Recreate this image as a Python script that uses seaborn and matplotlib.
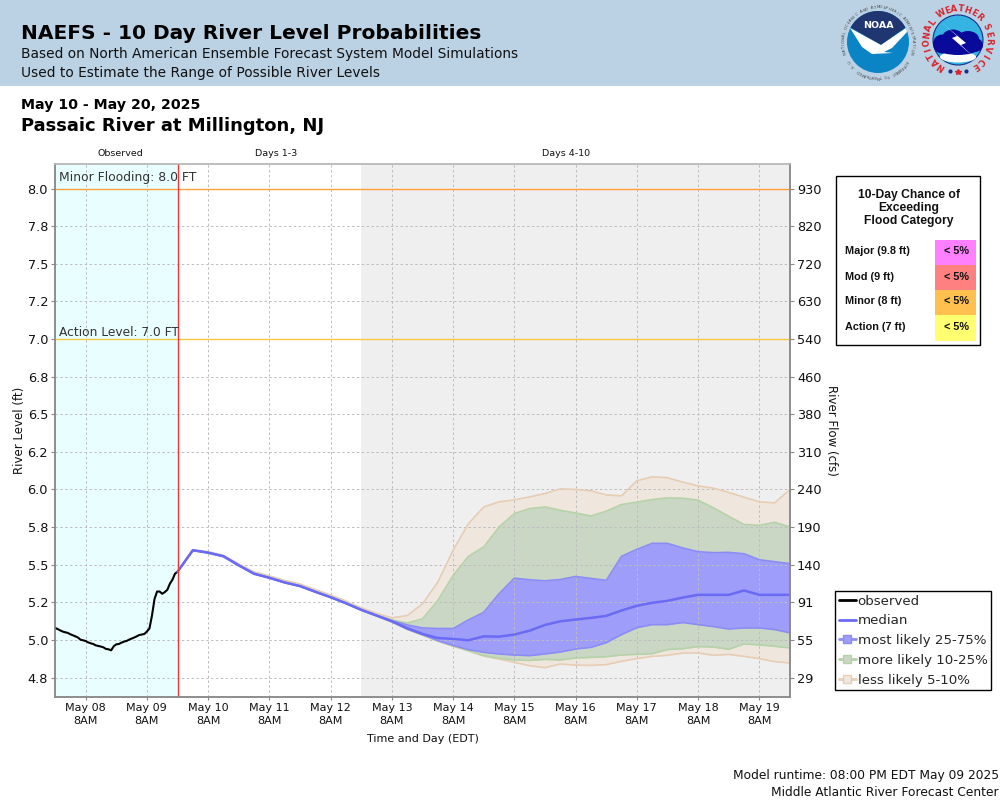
import numpy as np
import pandas as pd
import matplotlib
matplotlib.use("Agg")
import matplotlib.pyplot as plt
from matplotlib.lines import Line2D
from matplotlib.patches import Rectangle, Circle, Ellipse, Polygon
import seaborn as sns

# observed stage, hourly from May 07 8PM
obs_values = [5.08, 5.073, 5.064, 5.056, 5.051, 5.047, 5.038, 5.031, 5.024, 5.016,
              5.002, 4.998, 4.993, 4.984, 4.978, 4.973, 4.964, 4.96, 4.956, 4.951,
              4.94, 4.938, 4.931, 4.958, 4.971, 4.973, 4.982, 4.989, 4.993, 5.002,
              5.009, 5.016, 5.024, 5.033, 5.036, 5.04, 5.056, 5.076, 5.162, 5.273,
              5.322, 5.322, 5.307, 5.318, 5.333, 5.373, 5.4, 5.44, 5.453]

# forecast percentiles, every 6 hours from May 09 8PM
median = [5.453, 5.596, 5.58, 5.556, 5.496, 5.44, 5.413, 5.382, 5.358, 5.32, 5.284,
          5.244, 5.2, 5.162, 5.124, 5.078, 5.04, 5.013, 5.007, 4.998, 5.024, 5.022,
          5.036, 5.062, 5.1, 5.124, 5.136, 5.147, 5.16, 5.196, 5.227, 5.247, 5.26,
          5.282, 5.3, 5.3, 5.3, 5.329, 5.3, 5.3, 5.3]
p75 = [5.453, 5.597, 5.581, 5.557, 5.497, 5.441, 5.414, 5.383, 5.359, 5.321, 5.285,
       5.245, 5.201, 5.164, 5.129, 5.1, 5.08, 5.076, 5.076, 5.133, 5.184, 5.307,
       5.411, 5.4, 5.393, 5.402, 5.422, 5.409, 5.396, 5.556, 5.602, 5.642, 5.642,
       5.611, 5.587, 5.58, 5.582, 5.573, 5.533, 5.52, 5.507]
p90 = [5.453, 5.598, 5.583, 5.559, 5.499, 5.444, 5.417, 5.386, 5.362, 5.325, 5.288,
       5.248, 5.204, 5.167, 5.133, 5.113, 5.14, 5.262, 5.429, 5.556, 5.618, 5.751,
       5.84, 5.873, 5.884, 5.862, 5.844, 5.824, 5.856, 5.9, 5.916, 5.933, 5.944,
       5.942, 5.929, 5.878, 5.822, 5.767, 5.762, 5.782, 5.751]
p95 = [5.453, 5.6, 5.587, 5.564, 5.506, 5.453, 5.426, 5.396, 5.372, 5.335, 5.299,
       5.259, 5.214, 5.177, 5.147, 5.162, 5.24, 5.384, 5.596, 5.773, 5.884, 5.918,
       5.931, 5.951, 5.973, 6.004, 6.0, 5.991, 5.964, 5.958, 6.058, 6.084, 6.078,
       6.049, 6.024, 6.009, 5.98, 5.949, 5.918, 5.911, 6.0]
p25 = [5.453, 5.595, 5.579, 5.555, 5.495, 5.439, 5.412, 5.381, 5.357, 5.319, 5.283,
       5.243, 5.199, 5.161, 5.122, 5.073, 5.036, 4.996, 4.964, 4.936, 4.918, 4.907,
       4.9, 4.896, 4.907, 4.92, 4.94, 4.951, 4.982, 5.036, 5.082, 5.102, 5.102,
       5.116, 5.102, 5.089, 5.073, 5.08, 5.08, 5.069, 5.047]
p10 = [5.453, 5.595, 5.579, 5.555, 5.495, 5.439, 5.412, 5.381, 5.357, 5.319, 5.283,
       5.243, 5.199, 5.161, 5.12, 5.071, 5.033, 4.993, 4.96, 4.929, 4.896, 4.878,
       4.867, 4.864, 4.871, 4.867, 4.88, 4.884, 4.889, 4.9, 4.904, 4.909, 4.936,
       4.942, 4.956, 4.953, 4.938, 4.973, 4.967, 4.958, 4.947]
p5 = [5.453, 5.595, 5.579, 5.555, 5.495, 5.439, 5.412, 5.381, 5.357, 5.319, 5.283,
      5.243, 5.199, 5.161, 5.12, 5.07, 5.032, 4.992, 4.958, 4.927, 4.893, 4.873,
      4.851, 4.829, 4.816, 4.84, 4.833, 4.831, 4.836, 4.858, 4.876, 4.891, 4.898,
      4.913, 4.913, 4.898, 4.904, 4.891, 4.876, 4.856, 4.847]

stage_ticks = [8.0, 7.75, 7.5, 7.25, 7.0, 6.75, 6.5, 6.25, 6.0, 5.75, 5.5, 5.25, 5.0, 4.75]
stage_labels = ["8.0", "7.8", "7.5", "7.2", "7.0", "6.8", "6.5", "6.2", "6.0", "5.8", "5.5", "5.2", "5.0", "4.8"]
flow_labels = ["930", "820", "720", "630", "540", "460", "380", "310", "240", "190", "140", "91", "55", "29"]
day_labels = ["May 08", "May 09", "May 10", "May 11", "May 12", "May 13",
              "May 14", "May 15", "May 16", "May 17", "May 18", "May 19"]

panel_rows = ["Major (9.8 ft)", "Mod (9 ft)", "Minor (8 ft)", "Action (7 ft)"]
panel_chance = ["< 5%", "< 5%", "< 5%", "< 5%"]
panel_colors = ["#FF80FF", "#FF8080", "#FFC050", "#FFFF70"]

TAN, TAN_EDGE = "#EFE7DE", "#E6CDB4"
GREEN, GREEN_EDGE = "#C9D7C4", "#B6D2A8"
BLUE, BLUE_EDGE = "#9E9EFA", "#8C8CF5"
MEDIAN = "#6A6AF5"

obs_df = pd.DataFrame({"time": pd.date_range("2025-05-07 20:00", periods=len(obs_values), freq="h"),
                       "stage": obs_values})
fc_df = pd.DataFrame({"time": pd.date_range("2025-05-09 20:00", periods=len(median), freq="6h"),
                      "median": median, "p5": p5, "p10": p10, "p25": p25,
                      "p75": p75, "p90": p90, "p95": p95})

sns.set_theme(style="white")
plt.rcParams["font.family"] = ["DejaVu Sans"]

fig = plt.figure(figsize=(10, 8), dpi=100)

# left, bottom, width, height from pixel edges 55-790 / 164-697
ax = fig.add_axes([0.055, 1 - 697 / 800, 0.735, 533 / 800])
start, end = pd.Timestamp("2025-05-07 20:00"), pd.Timestamp("2025-05-19 20:00")
now = pd.Timestamp("2025-05-09 20:00")
ax.axvspan(start, now, color="#E9FFFF", lw=0, zorder=0.5)
ax.axvspan(pd.Timestamp("2025-05-12 20:00"), end, color="#EFEFEF", lw=0, zorder=0.5)

for lo, hi, fill, edge in [("p5", "p95", TAN, TAN_EDGE), ("p10", "p90", GREEN, GREEN_EDGE),
                           ("p25", "p75", BLUE, BLUE_EDGE)]:
    ax.fill_between(fc_df["time"], fc_df[lo], fc_df[hi], color=fill, lw=0, zorder=1)
    sns.lineplot(data=fc_df, x="time", y=lo, color=edge, lw=1.2, ax=ax, estimator=None, zorder=1.6)
    sns.lineplot(data=fc_df, x="time", y=hi, color=edge, lw=1.2, ax=ax, estimator=None, zorder=1.6)

sns.lineplot(data=obs_df, x="time", y="stage", color="black", lw=1.5, ax=ax, estimator=None, zorder=3)
sns.lineplot(data=fc_df, x="time", y="median", color=MEDIAN, lw=1.8, ax=ax, estimator=None, zorder=3)

ax.axhline(8.0, color="#FF9F3A", lw=1.0, zorder=2)
ax.axhline(7.0, color="#F5C842", lw=1.0, zorder=2)
ax.axvline(now, color="#FF3030", lw=1.0, zorder=4)
ax.text(0.005, 8.0 + 0.03, "Minor Flooding: 8.0 FT", transform=ax.get_yaxis_transform(),
        fontsize=8.95, color="#333333", va="bottom", zorder=5)
ax.text(0.005, 7.0 + 0.0, "Action Level: 7.0 FT", transform=ax.get_yaxis_transform(),
        fontsize=8.8, color="#333333", va="bottom", zorder=5)

ax.set_xlim(start, end)
ax.set_ylim(4.621, 8.163)
ax.set_axisbelow("line")
ax.grid(True, ls=(0, (2.5, 2.5)), lw=0.7, color="#BDBDBD")

ax.set_xticks(pd.date_range("2025-05-08 08:00", periods=len(day_labels), freq="D"))
ax.set_xticklabels([d + "\n8AM" for d in day_labels], fontsize=8, color="#111111", linespacing=1.4)
ax.set_yticks(stage_ticks)
ax.set_yticklabels(stage_labels, fontsize=9.3, color="#111111")
ax.tick_params(axis="y", length=3, width=0.8, color="#888888", pad=2, left=True)
ax.tick_params(axis="x", length=2, width=0.8, color="#888888", pad=2, bottom=True)
ax.set_xlabel("Time and Day (EDT)", fontsize=8, color="#111111", labelpad=6)
ax.set_ylabel("River Level (ft)", fontsize=8.5, color="#111111", labelpad=1)

ax2 = ax.twinx()
ax2.set_ylim(ax.get_ylim())
ax2.set_yticks(stage_ticks)
ax2.set_yticklabels(flow_labels, fontsize=9.3, color="#111111")
ax2.tick_params(axis="y", length=3, width=0.8, color="#888888", pad=2, right=True)
ax2.set_ylabel("River Flow (cfs)", fontsize=8.5, color="#111111", rotation=270, labelpad=12)
ax2.grid(False)

for a in (ax, ax2):
    for side in a.spines:
        a.spines[side].set_color("#8A8A8A")
        a.spines[side].set_linewidth(1.1)
    a.spines["top"].set_color("#BBBBBB")

handles = [
    Line2D([], [], color="black", lw=2),
    Line2D([], [], color=MEDIAN, lw=2),
    Line2D([], [], color=BLUE_EDGE, lw=2, marker="s", ms=6, mfc=BLUE, mec=BLUE_EDGE),
    Line2D([], [], color=GREEN_EDGE, lw=2, marker="s", ms=6, mfc=GREEN, mec=GREEN_EDGE),
    Line2D([], [], color=TAN_EDGE, lw=2, marker="s", ms=6, mfc=TAN, mec=TAN_EDGE),
]
fig.legend(handles, ["observed", "median", "most likely 25-75%", "more likely 10-25%", "less likely 5-10%"],
           loc="upper left", bbox_to_anchor=(0.835, 1 - 591 / 800), fontsize=9.65, frameon=True,
           fancybox=False, edgecolor="black", framealpha=1, borderpad=0.28, labelspacing=0.5,
           handlelength=1.25, handletextpad=0.15, borderaxespad=0)

# page furniture in pixel coordinates
pg = fig.add_axes([0, 0, 1, 1], zorder=-1)
pg.set_xlim(0, 1000)
pg.set_ylim(800, 0)
pg.axis("off")
pg.add_patch(Rectangle((0, 0), 1000, 86, color="#BBD2E5", lw=0))

over = fig.add_axes([0, 0, 1, 1], zorder=5)
over.set_xlim(0, 1000)
over.set_ylim(800, 0)
over.axis("off")
over.patch.set_alpha(0)

over.text(21, 33.5, "NAEFS - 10 Day River Level Probabilities", fontsize=14.5, fontweight="bold", va="center", color="black")
over.text(21, 54, "Based on North American Ensemble Forecast System Model Simulations", fontsize=9.95, va="center", color="#111111")
over.text(21, 73, "Used to Estimate the Range of Possible River Levels", fontsize=9.95, va="center", color="#111111")
over.text(21, 105.5, "May 10 - May 20, 2025", fontsize=10.15, fontweight="bold", va="center", color="black")
over.text(21, 126, "Passaic River at Millington, NJ", fontsize=12.95, fontweight="bold", va="center", color="black")
for x, label in [(120, "Observed"), (276, "Days 1-3"), (566, "Days 4-10")]:
    over.text(x, 154, label, fontsize=6.8, ha="center", va="center", color="#111111")
over.text(999, 776, "Model runtime: 08:00 PM EDT May 09 2025", fontsize=8.87, ha="right", va="center", color="#111111")
over.text(999, 792, "Middle Atlantic River Forecast Center", fontsize=8.87, ha="right", va="center", color="#111111")

# flood category panel
over.add_patch(Rectangle((836, 176), 144, 169, fc="white", ec="black", lw=1))
for i, line in enumerate(["10-Day Chance of", "Exceeding", "Flood Category"]):
    over.text(909, 195 + 13 * i, line, fontsize=8.7, fontweight="bold", family="Liberation Sans", ha="center", va="center", color="#111111")
for i, (row, chance, col) in enumerate(zip(panel_rows, panel_chance, panel_colors)):
    y = 240 + 25 * i
    over.add_patch(Rectangle((935, y), 41, 25.5, color=col, lw=0))
    over.text(845, y + 11.5, row, fontsize=7.8, fontweight="bold", family="Liberation Sans", va="center", color="#111111")
    over.text(957, y + 11.5, chance, fontsize=7.8, fontweight="bold", family="Liberation Sans", ha="center", va="center", color="#111111")


def ring_text(cx, cy, r, text, a0, a1, **kw):
    # letters spaced along an arc, angles clockwise from the top
    for ch, a in zip(text, np.linspace(a0, a1, len(text))):
        t = np.radians(a)
        over.text(cx + r * np.sin(t), cy - r * np.cos(t), ch, rotation=-a, rotation_mode="anchor",
                  ha="center", va="center", **kw)


# NOAA logo
nx, ny, nr = 878, 42, 31
over.add_patch(Circle((nx, ny), nr, color="#0B84C6", lw=0))
arc = np.radians(np.linspace(-62, 62, 30))
navy = [(nx + nr * np.sin(t), ny - nr * np.cos(t)) for t in arc] + [(881, 45)]
over.add_patch(Polygon(navy, color="#1F3670", lw=0))
over.add_patch(Polygon([(850, 28), (881, 45), (906, 28), (907, 32), (892, 48), (884, 52), (893, 53), (872, 54),
                        (862, 47)], color="white", lw=0))
over.text(nx, 26, "NOAA", fontsize=6.8, fontweight="bold", color="white", ha="center", va="center")
ring_text(nx, ny, 34.5, "NATIONAL OCEANIC AND ATMOSPHERIC ADMINISTRATION", -108, 108, fontsize=2.7, color="#444444")
ring_text(nx, ny, 34.5, "U.S. DEPARTMENT OF COMMERCE", 235, 125, fontsize=2.7, color="#444444")

# NWS logo
wx, wy = 958, 40
over.add_patch(Circle((wx, wy), 25, fc="#35B4E4", ec="#1B2F8A", lw=0.8))
over.add_patch(Ellipse((wx, wy + 17), 36, 11, color="white", lw=0))
for cx, cy, w, h in [(942, 44, 18, 19), (953, 38, 22, 17), (968, 39, 22, 16), (975, 45, 16, 14), (958, 49, 40, 12)]:
    over.add_patch(Ellipse((cx, cy), w, h, color="#0A0A9A", lw=0))
over.add_patch(Polygon([(941, 22), (957, 36), (952, 38), (975, 58), (961, 45), (966, 43)], color="white", lw=0))
ring_text(wx, wy, 31, "NATIONAL", -147, -55, fontsize=6, fontweight="bold", color="#D8232A")
ring_text(wx, wy, 31, "WEATHER", -32, 43, fontsize=6, fontweight="bold", color="#D8232A")
ring_text(wx, wy, 31, "SERVICE", 65, 147, fontsize=6, fontweight="bold", color="#D8232A")
over.plot([950, 966], [71, 71], ls="none", marker="o", ms=2, color="#1B2F8A")
over.plot([958], [72], ls="none", marker="*", ms=4, color="#D8232A")

fig.savefig("out.png", dpi=100)
